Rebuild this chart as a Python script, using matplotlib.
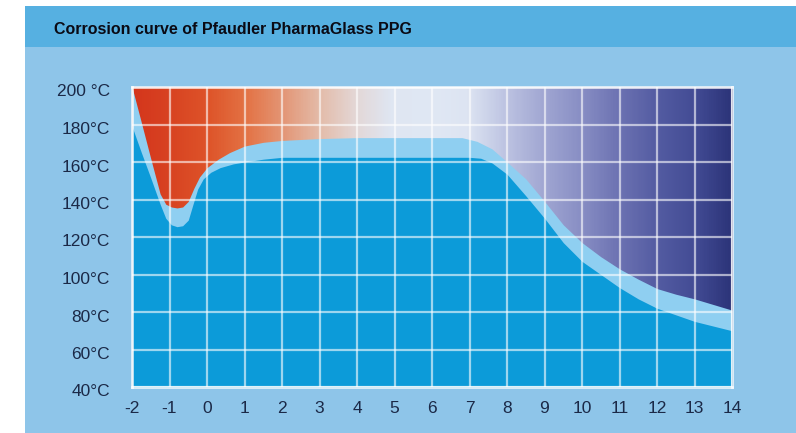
import numpy as np
import matplotlib
matplotlib.use("Agg")
import matplotlib.pyplot as plt
from matplotlib.colors import LinearSegmentedColormap
from matplotlib.patches import Rectangle
from matplotlib.transforms import ScaledTranslation

# ---- data ----
title = "Corrosion curve of Pfaudler PharmaGlass PPG"
x_ticks = [-2, -1, 0, 1, 2, 3, 4, 5, 6, 7, 8, 9, 10, 11, 12, 13, 14]
y_ticks = [40, 60, 80, 100, 120, 140, 160, 180, 200]
y_tick_labels = ["40°C", "60°C", "80°C", "100°C", "120°C", "140°C", "160°C", "180°C", "200 °C"]

# upper boundary (limit of the light band)
upper_ph = [-2, -1.75, -1.47, -1.25, -1.1, -0.95, -0.8, -0.65, -0.5, -0.35, -0.2, 0.0, 0.3, 0.6,
            1.0, 1.5, 2, 3, 4, 5, 6, 6.8, 7.2, 7.6, 8.0, 8.5, 9.0, 9.5, 10, 10.5, 11, 11.5, 12,
            12.5, 13, 13.5, 14]
upper_temp = [200, 181, 159.5, 143, 137.5, 136, 135.5, 136, 139, 146, 152, 157, 161.5, 165,
              168.5, 170.5, 171.5, 172.5, 173, 173, 173, 173, 171, 167, 160, 151, 139, 126.5, 117, 109.5,
              103, 97.5, 92.5, 89.5, 87, 84, 81]

# lower boundary (top of the dark blue area)
lower_ph = [-2, -1.75, -1.5, -1.25, -1.1, -0.95, -0.8, -0.65, -0.5, -0.38, -0.25, -0.1, 0.1, 0.35,
            0.7, 1.0, 1.5, 2, 3, 4, 5, 6, 7.0, 7.3, 7.6, 8.0, 8.5, 9.0, 9.5, 10, 10.5, 11, 11.5,
            12, 12.5, 13, 13.5, 14]
lower_temp = [179, 165, 151.5, 137.5, 130, 126.5, 125.5, 126, 129, 137, 145.5, 151, 154.5, 157,
              159, 160, 161.5, 162.5, 162.5, 162.5, 162.5, 162.5, 162.5, 162, 159.5, 153.5, 142, 130, 117,
              107, 100, 93, 87, 82, 78.5, 75, 72.5, 70]

# ---- figure ----
W, H, DPI = 796, 433, 100
fig = plt.figure(figsize=(W / DPI, H / DPI), dpi=DPI)
fig.patch.set_facecolor("white")

# panel background and title bar
fig.add_artist(Rectangle((25 / W, 0), 1 - 25 / W, (H - 6) / H, transform=fig.transFigure,
                         facecolor="#8ec5e9", edgecolor="none", zorder=0))
fig.add_artist(Rectangle((25 / W, (H - 47) / H), 1 - 25 / W, 41 / H, transform=fig.transFigure,
                         facecolor="#56b0e1", edgecolor="none", zorder=0))
fig.text(54 / W, 1 - 29 / H, title, fontsize=11.5, fontweight="bold",
         family=["Liberation Sans", "DejaVu Sans"], color="#0a0a14", va="center", ha="left")

ax = fig.add_axes([132 / W, (H - 387) / H, 600 / W, 300 / H])
ax.set_xlim(-2, 14)
ax.set_ylim(40, 200)

# horizontal colour gradient above the curves
stops = [(0.0, "#d4361c"), (0.0625, "#d84322"), (0.125, "#de5429"), (0.1875, "#e37244"),
         (0.25, "#e39676"), (0.3125, "#e4bcaa"), (0.375, "#e3d8d8"), (0.43, "#dfe6f2"),
         (0.5, "#e0e8f4"), (0.56, "#dde4f2"), (0.625, "#bcc2e1"), (0.6875, "#a0a6d2"),
         (0.75, "#888ec4"), (0.8125, "#6c72b2"), (0.875, "#545ca2"), (0.9375, "#434c95"),
         (1.0, "#2c3479")]
cmap = LinearSegmentedColormap.from_list("bg", stops)
grad = np.linspace(0, 1, 600)[None, :]
ax.imshow(grad, extent=[-2, 14, 40, 200], aspect="auto", cmap=cmap, zorder=0,
          interpolation="bilinear")

ax.fill_between(upper_ph, 40, upper_temp, color="#8fcff1", lw=0, zorder=1)
ax.fill_between(lower_ph, 40, lower_temp, color="#0c9bd9", lw=0, zorder=1.5)

# grid
ax.set_xticks(x_ticks)
ax.set_yticks(y_ticks)
ax.grid(True, color="white", alpha=0.6, lw=1.6)
ax.set_axisbelow(False)
for s in ax.spines.values():
    s.set_color((1, 1, 1, 0.75))
    s.set_linewidth(2)

lab_font = ["Liberation Sans Narrow", "Liberation Sans", "DejaVu Sans"]
ax.set_xticklabels([str(v) for v in x_ticks], family=lab_font, fontsize=12.5, color="#1b2947")
ax.set_yticklabels(y_tick_labels, family=lab_font, fontsize=12.5, color="#1b2947")
ax.tick_params(axis="both", length=0)
ax.tick_params(axis="y", pad=16)
ax.tick_params(axis="x", pad=10)
for lab in ax.get_yticklabels():
    lab.set_transform(lab.get_transform() + ScaledTranslation(0, -3.5 / DPI, fig.dpi_scale_trans))

fig.savefig("out.png", dpi=DPI)
